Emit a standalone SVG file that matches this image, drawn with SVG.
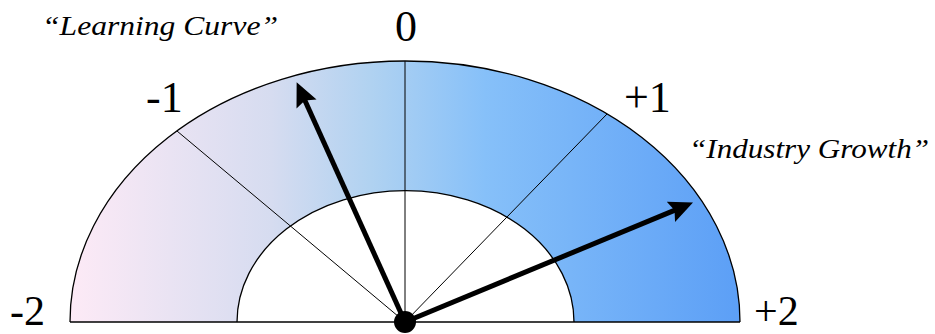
<svg xmlns="http://www.w3.org/2000/svg" width="935" height="334" viewBox="0 0 935 334">
  <style>
    .num { font-family: "Liberation Serif", "Times New Roman", serif; font-size: 44px; fill: #000; }
    .num.low { font-size: 42px; }
    .cap { font-family: "Liberation Serif", "Times New Roman", serif; font-style: italic; font-size: 28px; fill: #000; }
    .edge { fill: none; stroke: #000; stroke-width: 1.3; }
    .div { stroke: #000; stroke-width: 1; }
    .arrow { stroke: #000; stroke-width: 5; fill: none; marker-end: url(#head); }
  </style>
  <defs>
    <linearGradient id="ringGrad" gradientUnits="userSpaceOnUse" x1="70" y1="0" x2="740" y2="0">
      <stop offset="0" stop-color="#fdeaf6"/>
      <stop offset="0.3" stop-color="#d6dcf0"/>
      <stop offset="0.45" stop-color="#b0d2f1"/>
      <stop offset="0.62" stop-color="#86c0f9"/>
      <stop offset="1" stop-color="#5c9ff6"/>
    </linearGradient>
    <marker id="head" markerUnits="userSpaceOnUse" viewBox="0 0 24 22" markerWidth="24" markerHeight="22" refX="11" refY="11" orient="auto">
      <path d="M0,0 L24,11 L0,22 L4,11 Z" fill="#000"/>
    </marker>
  </defs>

  <g id="gauge">
    <path d="M70,322 A335,261 0 0 1 740,322 L574,322 A168,131 0 0 0 237,322 Z" fill="url(#ringGrad)"/>
    <path class="edge" d="M70,322 A335,261 0 0 1 740,322"/>
    <path class="edge" d="M237,322 A168,131 0 0 1 574,322"/>
    <line x1="70" y1="322" x2="740" y2="322" stroke="#000" stroke-width="1.6"/>
  </g>

  <g id="dividers">
    <line class="div" x1="405" y1="322" x2="177" y2="131"/>
    <line class="div" x1="405" y1="322" x2="405" y2="61"/>
    <line class="div" x1="405" y1="322" x2="607" y2="114"/>
  </g>

  <g id="scale-labels">
    <text class="num low" x="10" y="325">-2</text>
    <text class="num" x="146" y="112">-1</text>
    <text class="num" x="406" y="41" text-anchor="middle">0</text>
    <text class="num" x="624" y="112">+1</text>
    <text class="num low" x="754" y="325">+2</text>
  </g>

  <g id="connectors">
    <line class="arrow" x1="405" y1="322" x2="302" y2="94"/>
    <line class="arrow" x1="405" y1="322" x2="681" y2="207.6"/>
  </g>

  <g id="learning-curve">
    <text class="cap" x="42" y="35" textLength="236" lengthAdjust="spacingAndGlyphs">“Learning Curve”</text>
  </g>
  <g id="industry-growth">
    <text class="cap" x="689" y="158" textLength="240" lengthAdjust="spacingAndGlyphs">“Industry Growth”</text>
  </g>

  <g id="pivot">
    <circle cx="405" cy="322" r="11" fill="#000"/>
  </g>
</svg>
